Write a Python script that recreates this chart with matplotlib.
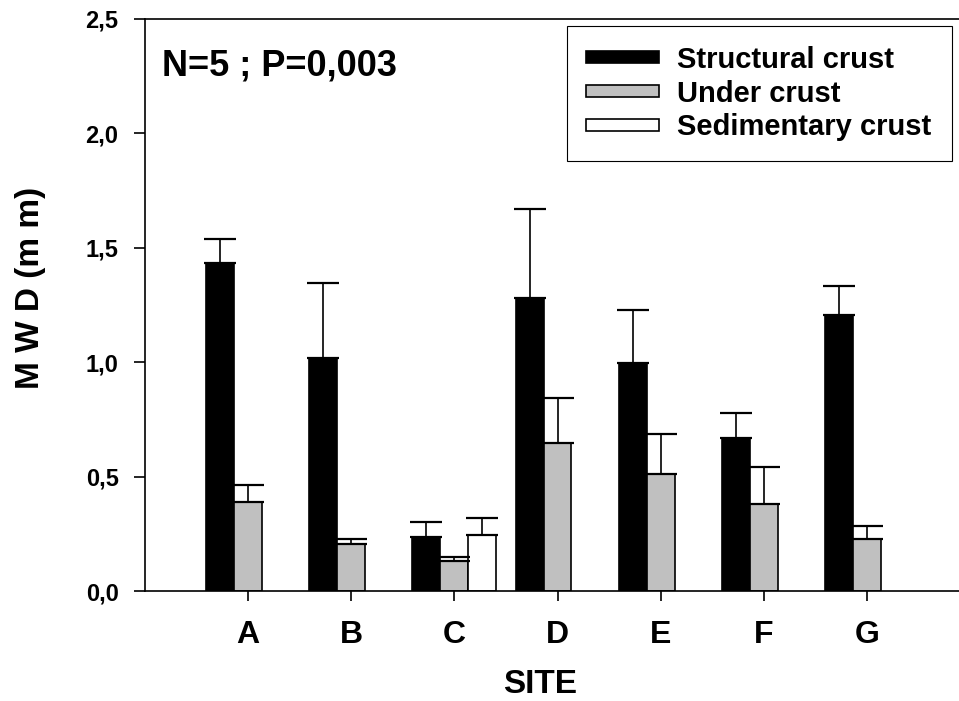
import numpy as np
import matplotlib.pyplot as plt
from matplotlib.patches import Rectangle

plt.rcParams['font.family'] = ['Liberation Sans', 'DejaVu Sans']
plt.rcParams['font.weight'] = 'bold'

sites = ['A', 'B', 'C', 'D', 'E', 'F', 'G']
structural = [1.435, 1.017, 0.235, 1.279, 0.997, 0.670, 1.206]
structural_err = [0.105, 0.330, 0.065, 0.391, 0.230, 0.107, 0.127]
under = [0.389, 0.204, 0.131, 0.645, 0.511, 0.380, 0.226]
under_err = [0.073, 0.023, 0.016, 0.197, 0.177, 0.163, 0.059]
sed_sites = ['C']
sedimentary = [0.245]
sedimentary_err = [0.073]

yticks = [0.0, 0.5, 1.0, 1.5, 2.0, 2.5]

fig = plt.figure(figsize=(9.59, 7.01), dpi=100)
ax = fig.add_axes([0.1512, 0.1569, 0.8488, 0.816])

x = np.arange(len(sites))
w = 0.271
ekw = dict(ecolor='black', elinewidth=1.2, capsize=11.5, capthick=1.6)

ax.bar(x - w, structural, w, color='black', edgecolor='black', linewidth=1.2,
       yerr=[np.zeros(len(x)), structural_err], error_kw=ekw, label='Structural crust')
ax.bar(x, under, w, color='#c0c0c0', edgecolor='black', linewidth=1.2,
       yerr=[np.zeros(len(x)), under_err], error_kw=ekw, label='Under crust')
xs = np.array([sites.index(s) for s in sed_sites])
ax.bar(xs + w, sedimentary, w, color='white', edgecolor='black', linewidth=1.2,
       yerr=[np.zeros(len(xs)), sedimentary_err], error_kw=ekw, label='Sedimentary crust')

ax.set_xlim(-1.0, 6.893)
ax.set_ylim(0, 2.5)
ax.set_xticks(x)
ax.set_xticklabels(sites, fontsize=23, fontweight='bold')
ax.set_yticks(yticks)
ax.set_yticklabels([f'{v:.1f}'.replace('.', ',') for v in yticks], fontsize=17, fontweight='bold')
ax.tick_params(axis='x', direction='out', length=7, width=1.2, pad=14)
ax.tick_params(axis='y', direction='out', length=8, width=1.2, pad=11)

for s in ['left', 'bottom', 'top']:
    ax.spines[s].set_linewidth(1.2)
ax.spines['right'].set_visible(False)

ax.set_xlabel('SITE', fontsize=24, fontweight='bold')
ax.xaxis.set_label_coords(0.485, -0.137)
ax.set_ylabel('M W D (m m)', fontsize=24, fontweight='bold')
ax.yaxis.set_label_coords(-0.122, 0.53)

ax.text(0.021, 0.902, 'N=5 ; P=0,003', transform=ax.transAxes,
        fontsize=26, fontweight='bold', va='baseline', ha='left')

handles = [Rectangle((0, 0), 1, 1, facecolor=c, edgecolor='black', linewidth=1.2)
           for c in ['black', '#c0c0c0', 'white']]
leg = ax.legend(handles, ['Structural crust', 'Under crust', 'Sedimentary crust'],
                loc='upper left', bbox_to_anchor=(0.518, 0.988), borderaxespad=0,
                prop={'weight': 'bold', 'size': 21},
                handlelength=2.5, handleheight=0.28, handletextpad=0.62,
                labelspacing=0.2, borderpad=0.68, fancybox=False, framealpha=1,
                edgecolor='black')
leg.get_frame().set_linewidth(0.8)

fig.savefig('out.png', dpi=100)
